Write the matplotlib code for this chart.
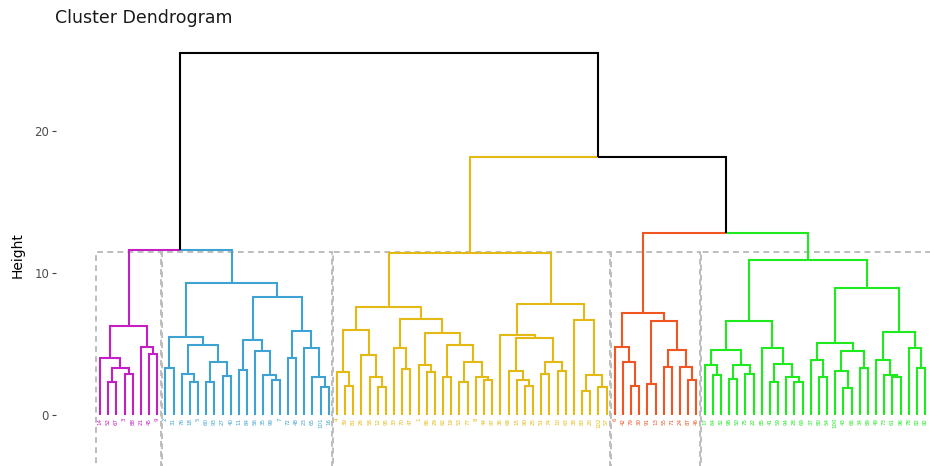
import numpy as np
import matplotlib.pyplot as plt
from matplotlib.patches import Rectangle

L = None  # a leaf

# cluster subtrees: [merge height, left, right]
magenta = [6.3, [4.0, L, [3.3, [2.3, L, L], [2.9, L, L]]],
                [4.8, L, [4.3, L, L]]]
blue = [9.27,
        [5.5, [3.3, L, L],
              [4.9, [2.9, L, [2.3, L, L]], [3.7, [2.3, L, L], [2.75, L, L]]]],
        [8.3, [5.3, [3.2, L, L], [4.5, L, [2.8, L, [2.5, L, L]]]],
              [5.9, [4.0, L, L], [4.7, L, [2.7, L, [2.0, L, L]]]]]]
yellow = [11.4,
          [7.6, [6.0, [3.0, L, [2.06, L, L]], [4.2, L, [2.7, L, [2.0, L, L]]]],
                [6.76, [4.75, L, [3.24, L, L]],
                       [5.75, [3.5, L, [3.05, L, L]],
                              [4.9, [2.7, L, L],
                                    [3.75, [2.3, L, L], [2.65, L, [2.5, L, L]]]]]]],
          [7.85, [5.6, L, [5.45, [3.1, L, [2.5, L, [2.06, L, L]]],
                                 [3.75, [2.9, L, L], [3.1, L, L]]]],
                 [6.7, L, [2.85, [1.7, L, L], [2.0, L, L]]]]]
orange = [7.15, [4.8, L, [3.7, L, [2.05, L, L]]],
                [6.65, [2.2, L, L], [4.6, [3.35, L, L], [3.4, L, [2.5, L, L]]]]]
green = [10.9,
         [6.6, [4.6, [3.5, L, [2.8, L, L]], [3.5, [2.55, L, L], [2.9, L, L]]],
               [4.75, L, [3.6, [2.3, L, L], [2.65, L, [2.3, L, L]]]]],
         [8.97, [5.05, [3.9, L, [2.65, L, L]],
                       [4.5, [3.1, L, [1.9, L, L]], [3.3, L, L]]],
                [5.87, [3.87, L, [2.85, L, [2.7, L, L]]],
                       [4.75, L, [3.3, L, L]]]]]

# merges above the cut
top_tree = [25.5, [11.65, 'magenta', 'blue'], [18.2, 'yellow', [12.8, 'orange', 'green']]]
cut_height = 11.5

clusters = {'magenta': magenta, 'blue': blue, 'yellow': yellow, 'orange': orange, 'green': green}
colors = {'magenta': '#C41EC4', 'blue': '#3EA3D3', 'yellow': '#E5B913',
          'orange': '#F05522', 'green': '#1EEB1E'}

labels = {
    'magenta': [14, 52, 67, 3, 88, 21, 45, 9],
    'blue': [2, 31, 76, 18, 5, 60, 93, 27, 40, 11, 84, 56, 35, 99, 7, 72, 48, 23, 65, 101, 16],
    'yellow': [4, 39, 81, 26, 58, 12, 95, 33, 70, 47, 1, 86, 29, 62, 19, 53, 77, 8, 44, 97,
               36, 68, 15, 90, 25, 51, 74, 10, 63, 38, 83, 20, 102, 57],
    'orange': [6, 42, 79, 30, 91, 13, 55, 71, 24, 87, 46],
    'green': [17, 64, 32, 98, 50, 75, 22, 85, 41, 59, 94, 28, 69, 37, 80, 54, 100, 43, 66, 34,
              89, 49, 73, 61, 96, 78, 82, 92],
}

segs = []
leaves = []
spans = {}
count = [0]


def walk(node, col):
    if isinstance(node, str):
        start = count[0] + 1
        res = walk(clusters[node], colors[node])
        spans[node] = (start, count[0])
        return res
    if node is None:
        count[0] += 1
        leaves.append((count[0], col))
        return count[0], 0.0, col
    h, left, right = node
    kids = [walk(left, col), walk(right, col)]
    x = (kids[0][0] + kids[1][0]) / 2
    for cx, ch, cc in kids:
        segs.append(([cx, cx, x], [ch, h, h], cc))
    return x, h, col


walk(top_tree, 'black')

fig = plt.figure(figsize=(9.3, 4.66), dpi=100)
ax = fig.add_axes([56 / 930, 0, 874 / 930, 426 / 466])

for xs, ys, c in segs:
    ax.plot(xs, ys, color=c, lw=1.5, solid_capstyle='butt', solid_joinstyle='miter')

all_labels = sum([labels[k] for k in clusters], [])
for (x, c), lab in zip(leaves, all_labels):
    ax.text(x, -0.2, str(lab), rotation=90, ha='center', va='top', fontsize=4, color=c)

last = list(spans)[-1]
for name, (a, b) in spans.items():
    right = b + 0.45 if name != last else b + 2
    ax.add_patch(Rectangle((a - 0.45, -6), right - (a - 0.45), cut_height + 6, fill=False,
                           edgecolor='#BDBDBD', lw=1.4, linestyle=(0, (3, 2.2))))

ax.set_xlim(1 - 44 / 8.17, 1 + 830 / 8.17)
ax.set_ylim(-51 / 14.2, 375 / 14.2)
for s in ax.spines.values():
    s.set_visible(False)
ax.set_xticks([])
ax.set_yticks([0, 10, 20])
ax.tick_params(axis='y', length=3, width=0.8, color='#444444', labelcolor='#4D4D4D',
               labelsize=8.5, pad=2)

fig.text(55 / 930, 1 - 18 / 466, 'Cluster Dendrogram', ha='left', va='center',
         fontsize=12.5, color='#1A1A1A')
fig.text(18 / 930, 1 - 255 / 466, 'Height', rotation=90, ha='center', va='center',
         fontsize=10, color='black')

fig.savefig('out.png', dpi=100)
